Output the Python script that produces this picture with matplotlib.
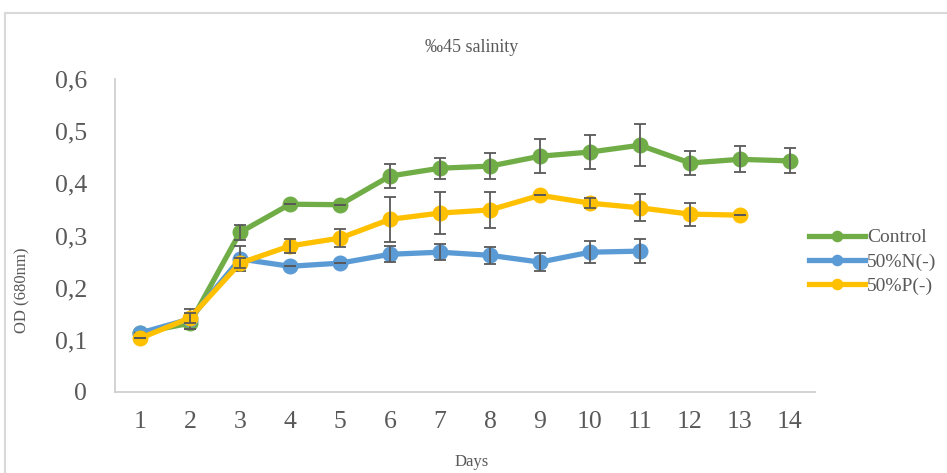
import numpy as np
import matplotlib.pyplot as plt
from matplotlib.patches import Rectangle

plt.rcParams['font.family'] = ['Liberation Serif', 'DejaVu Serif']

days = np.arange(1, 15)
control = [0.113, 0.132, 0.306, 0.360, 0.359, 0.414, 0.429, 0.433, 0.452, 0.460, 0.473, 0.439, 0.446, 0.443]
control_err = [0.0, 0.012, 0.015, 0.0, 0.0, 0.023, 0.020, 0.025, 0.033, 0.033, 0.040, 0.023, 0.025, 0.024]
n_minus = [0.113, 0.140, 0.255, 0.241, 0.247, 0.264, 0.268, 0.262, 0.249, 0.268, 0.270]
n_err = [0.0, 0.020, 0.024, 0.0, 0.0, 0.015, 0.015, 0.016, 0.017, 0.021, 0.023]
p_minus = [0.103, 0.142, 0.247, 0.280, 0.295, 0.331, 0.343, 0.349, 0.377, 0.362, 0.353, 0.341, 0.339]
p_err = [0.0, 0.010, 0.010, 0.013, 0.017, 0.043, 0.041, 0.034, 0.0, 0.010, 0.026, 0.022, 0.0]

series = [('Control', control, control_err, '#70AD47'),
          ('50%N(-)', n_minus, n_err, '#5B9BD5'),
          ('50%P(-)', p_minus, p_err, '#FFC000')]

yticks = [0, 0.1, 0.2, 0.3, 0.4, 0.5, 0.6]
ytick_labels = ['0', '0,1', '0,2', '0,3', '0,4', '0,5', '0,6']

txt = '#595959'
fig = plt.figure(figsize=(9.47, 4.73), dpi=100)
fig.patches.append(Rectangle((5 / 947, -0.05), 1.1, 1 - 13 / 473 + 0.05, transform=fig.transFigure,
                             fill=False, edgecolor='#D9D9D9', linewidth=1.5))
ax = fig.add_axes([115 / 947, 1 - 392 / 473, 700 / 947, 313 / 473])

z = 2
for name, vals, errs, col in series:
    x = days[:len(vals)]
    ax.plot(x, vals, color=col, linewidth=3.8, marker='o', markersize=10.5, label=name, zorder=z)
    ax.errorbar(x, vals, yerr=errs, fmt='none', ecolor='#595959', elinewidth=1.3,
                capsize=4, capthick=1.3, zorder=z + 0.5)
    z += 1

ax.set_xlim(0.5, 14.5)
ax.set_ylim(0, 0.6)
ax.set_xticks(days)
ax.set_xticklabels([str(d) for d in days], fontsize=18.5, color=txt)
ax.set_yticks(yticks)
ax.set_yticklabels(ytick_labels, fontsize=18.5, color=txt)
ax.tick_params(axis='both', length=0)
ax.tick_params(axis='y', pad=20)
ax.tick_params(axis='x', pad=14)
for s in ['top', 'right']:
    ax.spines[s].set_visible(False)
for s in ['left', 'bottom']:
    ax.spines[s].set_color('#D0D0D0')
    ax.spines[s].set_linewidth(1.3)

fig.text(472 / 947, 1 - 47 / 473, '‰45 salinity', ha='center', va='center', fontsize=13, color=txt)
fig.text(22 / 947, 1 - 290 / 473, 'OD (680nm)', rotation=90, ha='center', va='center', fontsize=12, color=txt)
fig.text(472 / 947, 1 - 462 / 473, 'Days', ha='center', va='center', fontsize=12, color=txt)

leg = fig.legend(loc='center left', bbox_to_anchor=(801 / 947, 1 - 262 / 473), frameon=False,
                 fontsize=14, handlelength=2.9, handletextpad=0.1, labelspacing=0.35,
                 markerscale=0.7, borderaxespad=0)
for t in leg.get_texts():
    t.set_color(txt)

plt.savefig('out.png', dpi=100)
